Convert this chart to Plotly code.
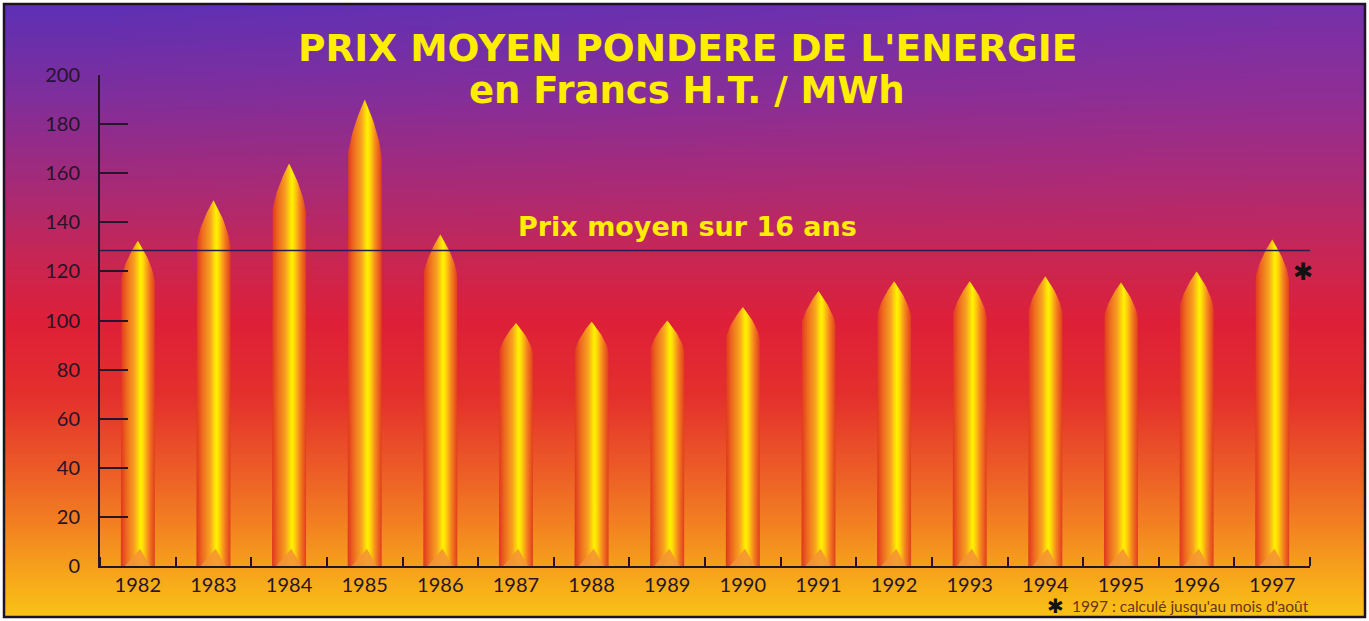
import base64, struct, zlib
import plotly.graph_objects as go

# ---------------- data ----------------
years = ["1982", "1983", "1984", "1985", "1986", "1987", "1988", "1989",
         "1990", "1991", "1992", "1993", "1994", "1995", "1996", "1997"]
prices = [132.5, 149, 164, 190, 135, 99, 99.5, 100,
          105.5, 112, 116, 116, 118, 115.5, 120, 133]
average_16y = 128.5
y_ticks = [0, 20, 40, 60, 80, 100, 120, 140, 160, 180, 200]

title_l1 = "PRIX MOYEN PONDERE DE L'ENERGIE"
title_l2 = "en Francs H.T. / MWh"
avg_label = "Prix moyen sur 16 ans"
footnote = "1997 : calculé jusqu'au mois d'août"

# ---------------- geometry / style ----------------
W, H = 1369, 621
ML, MR, MT, MB = 100, 59, 75, 55
PW, PH = W - ML - MR, H - MT - MB

def px_to_paper(px, py):
    return (px - ML) / PW, (H - MB - py) / PH

# background gradient image (vertical, slight horizontal tint)
stops = [(0.00, (106, 48, 176)), (0.15, (136, 46, 152)), (0.30, (172, 42, 116)),
         (0.42, (202, 38, 82)), (0.52, (222, 32, 56)), (0.64, (228, 48, 44)),
         (0.74, (235, 84, 40)), (0.84, (242, 124, 34)), (0.92, (246, 160, 28)),
         (1.00, (250, 194, 22))]

def grad(t):
    for (t0, c0), (t1, c1) in zip(stops[:-1], stops[1:]):
        if t <= t1:
            f = (t - t0) / (t1 - t0)
            return [c0[i] + (c1[i] - c0[i]) * f for i in range(3)]
    return list(stops[-1][1])

IW, IH = 8, 160
rows = []
for j in range(IH):
    t = j / (IH - 1)
    base = grad(t)
    row = bytearray([0])
    for i in range(IW):
        s = i / (IW - 1)
        k = max(0.0, 1 - t * 2.2)
        r = base[0] + (s - 0.5) * 24 * k
        g = base[1]
        b = base[2] - (s - 0.5) * 10 * k
        row += bytes([max(0, min(255, int(round(v)))) for v in (r, g, b)])
    rows.append(bytes(row))

def chunk(tag, data):
    c = tag + data
    return struct.pack(">I", len(data)) + c + struct.pack(">I", zlib.crc32(c) & 0xffffffff)

png = (b"\x89PNG\r\n\x1a\n" + chunk(b"IHDR", struct.pack(">IIBBBBB", IW, IH, 8, 2, 0, 0, 0))
       + chunk(b"IDAT", zlib.compress(b"".join(rows), 9)) + chunk(b"IEND", b""))
bg_src = "data:image/png;base64," + base64.b64encode(png).decode()

bx0, by1 = px_to_paper(4, 4)
bx1, by0 = px_to_paper(1365, 617)

# ---------------- figure ----------------
fig = go.Figure()

half_w = 0.225
tip_ratio = 0.13
n_pts = 24
bar_scale = [[0.0, "#e0361e"], [0.18, "#ee6c1f"], [0.40, "#f7a21f"],
             [0.58, "#fff200"], [0.66, "#ffd80a"], [0.82, "#f5841f"],
             [1.0, "#e03e1d"]]

for i, v in enumerate(prices):
    tip_h = tip_ratio * v
    left_x, left_y, right_x, right_y = [], [], [], []
    for k in range(n_pts + 1):
        d = k / n_pts                       # depth fraction below the tip
        u = 1 - (1 - d) ** 1.6              # half-width fraction (ogive)
        left_x.append(i - u * half_w); left_y.append(v - tip_h * d)
        right_x.append(i + u * half_w); right_y.append(v - tip_h * d)
    xs = [i - half_w] + left_x[::-1] + right_x[1:] + [i + half_w, i - half_w]
    ys = [0] + left_y[::-1] + right_y[1:] + [0, 0]
    fig.add_trace(go.Scatter(
        x=xs, y=ys, mode="lines", fill="toself", line=dict(width=0),
        fillgradient=dict(type="horizontal", colorscale=bar_scale),
        hoverinfo="skip", showlegend=False))

# pencil-end notch at the foot of each bar
nx, ny = [], []
for i, v in enumerate(prices):
    nx += [i - 0.17, i + 0.03, i + 0.16, i - 0.17, None]
    ny += [0, 7, 0, 0, None]
fig.add_trace(go.Scatter(x=nx, y=ny, mode="lines", fill="toself",
                         line=dict(width=0), fillcolor="rgba(245,148,50,0.9)",
                         hoverinfo="skip", showlegend=False))

# 16-year average line
fig.add_trace(go.Scatter(x=[-0.5, 15.5], y=[average_16y, average_16y], mode="lines",
                         line=dict(color="#2a1a55", width=1.6),
                         hoverinfo="skip", showlegend=False))

axis_col = "#25142a"
fig.update_layout(
    width=W, height=H,
    margin=dict(l=ML, r=MR, t=MT, b=MB),
    paper_bgcolor="white",
    plot_bgcolor="rgba(0,0,0,0)",
    showlegend=False,
    xaxis=dict(range=[-0.5, 15.5], tickvals=list(range(len(years))), ticktext=years,
               ticks="", showgrid=False, zeroline=False,
               showline=True, linecolor=axis_col, linewidth=2,
               tickfont=dict(family="Lato", size=20, color=axis_col),
               minor=dict(tickvals=[k - 0.5 for k in range(len(years) + 1)],
                          ticks="inside", ticklen=9, tickwidth=2, tickcolor=axis_col,
                          showgrid=False),
               fixedrange=True),
    yaxis=dict(range=[0, 200], tickvals=y_ticks, ticks="inside", ticklen=28,
               tickwidth=2, tickcolor=axis_col, showgrid=False, zeroline=False,
               showline=True, linecolor=axis_col, linewidth=2,
               ticklabelstandoff=14,
               tickfont=dict(family="Lato", size=20, color=axis_col),
               fixedrange=True),
    images=[dict(source=bg_src, xref="paper", yref="paper", x=bx0, y=by1,
                 sizex=bx1 - bx0, sizey=by1 - by0, sizing="stretch",
                 xanchor="left", yanchor="top", layer="below")],
    shapes=[dict(type="rect", xref="paper", yref="paper", x0=bx0, x1=bx1,
                 y0=by0, y1=by1, line=dict(color="#1c1420", width=2.5),
                 fillcolor="rgba(0,0,0,0)", layer="above")],
)

def ann(text, px, py, size, color, weight="normal", xanchor="center", family="Lato"):
    x, y = px_to_paper(px, py)
    fig.add_annotation(text=text, x=x, y=y, xref="paper", yref="paper",
                       xanchor=xanchor, yanchor="middle", showarrow=False,
                       font=dict(family=family, size=size, color=color, weight=weight))

ann(title_l1, 687, 48, 37.5, "#ffee00", weight="bold", family="DejaVu Sans")
ann(title_l2, 687, 91, 37, "#ffee00", weight="bold", family="DejaVu Sans")
ann(avg_label, 687, 226, 27, "#ffee00", weight="bold", family="DejaVu Sans")
ann("✱", 1303, 272, 24, "#111111", family="DejaVu Sans")
ann("✱", 1055, 606, 20, "#111111", family="DejaVu Sans")
ann(footnote, 1311, 606, 15.5, "#6a3418", xanchor="right")

fig.write_html("out.html", post_script="document.body.style.margin='0';",
               config={"displayModeBar": False})
